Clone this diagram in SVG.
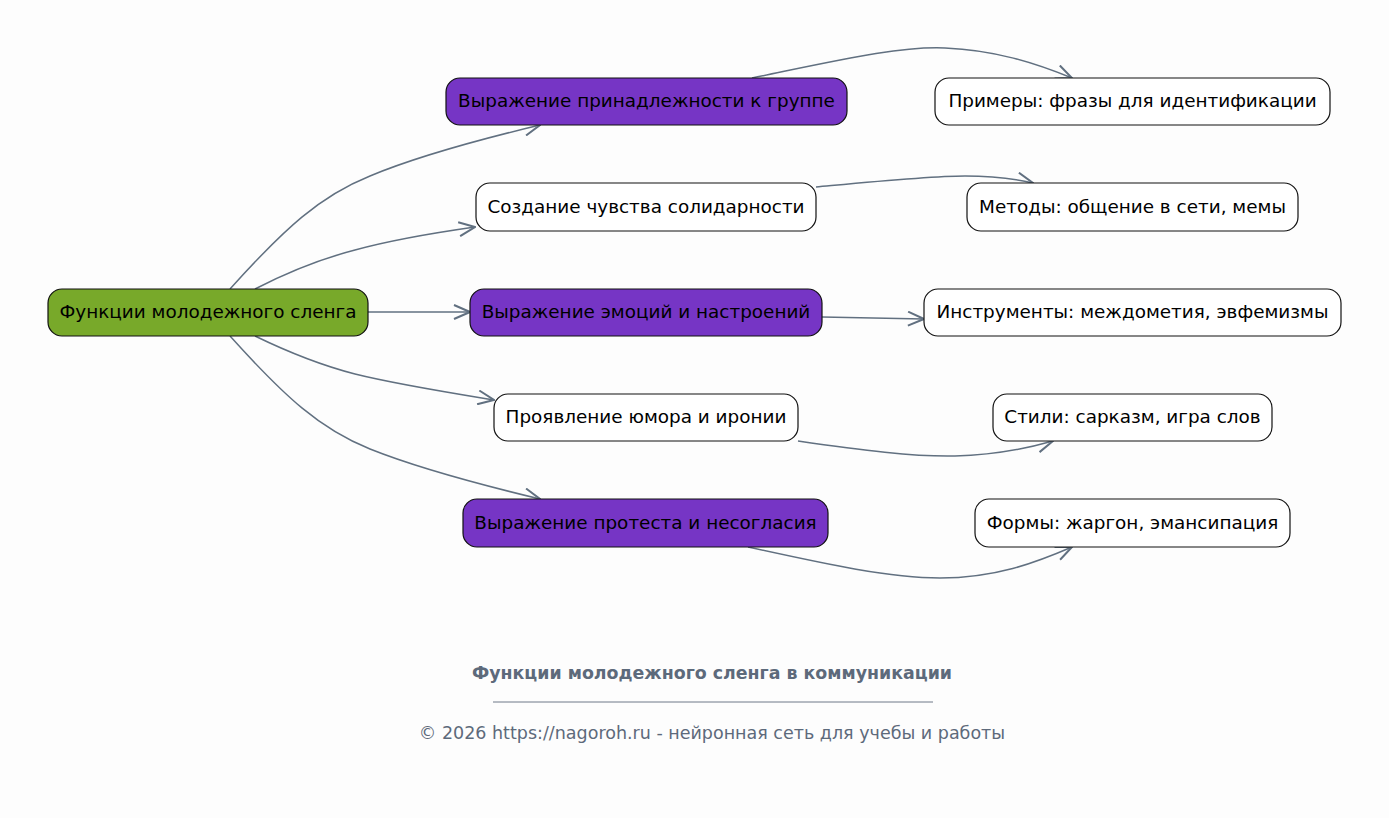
<svg xmlns="http://www.w3.org/2000/svg" width="1389" height="818" viewBox="0 0 1389 818">
<defs>
<style>
.n rect{stroke:#111;stroke-width:1.2}
.g rect{fill:#78a92a}
.p rect{fill:#7635c5}
.w rect{fill:#ffffff}
.n text{font-family:"DejaVu Sans",sans-serif;font-size:18.4px;fill:#000;text-anchor:middle;dominant-baseline:central}
.e path{fill:none;stroke:#617080;stroke-width:1.5;marker-end:url(#ah)}
.ft{font-family:"DejaVu Sans",sans-serif;fill:#5d6a7b;text-anchor:middle}
</style>
<marker id="ah" viewBox="0 0 18 16" refX="17" refY="8" markerWidth="18" markerHeight="16" markerUnits="userSpaceOnUse" orient="auto">
<path d="M1,1 L17,8 L1,15" fill="none" stroke="#617080" stroke-width="2"/>
</marker>
</defs>
<rect width="1389" height="818" fill="#fdfdfd"/>
<g class="e" id="connectors">
<path d="M230,289 C285,228 320,196 370,176 C420,155 490,137 540,125"/>
<path d="M255,289 C290,271 320,259 355,250 C395,239 440,232 475,227"/>
<path d="M368,312 L470,312"/>
<path d="M255,336 C290,353 320,365 355,374 C395,384 445,392 494,400"/>
<path d="M230,336 C285,397 320,429 370,449 C420,469 490,487 540,499"/>
<path d="M752,78 C840,60 900,46 945,48 C995,50 1035,63 1072,78"/>
<path d="M816,187 C880,181 930,176 965,176 C995,176 1015,179 1033,183"/>
<path d="M822,317 L924,319"/>
<path d="M798,441 C860,450 915,457 955,456 C995,455 1025,449 1053,441"/>
<path d="M748,547 C830,565 890,578 940,578 C995,578 1035,563 1072,547"/>
</g>
<g class="n g" id="root"><rect x="48" y="289" width="320" height="47" rx="14"/><text x="208" y="311.5">Функции молодежного сленга</text></g>
<g class="n p" id="n1"><rect x="446" y="78" width="401" height="47" rx="14"/><text x="646.5" y="100.5">Выражение принадлежности к группе</text></g>
<g class="n w" id="n2"><rect x="476" y="183" width="340" height="48" rx="14"/><text x="646" y="206">Создание чувства солидарности</text></g>
<g class="n p" id="n3"><rect x="470" y="289" width="352" height="47" rx="14"/><text x="646" y="311.5">Выражение эмоций и настроений</text></g>
<g class="n w" id="n4"><rect x="494" y="394" width="304" height="47" rx="14"/><text x="646" y="416.5">Проявление юмора и иронии</text></g>
<g class="n p" id="n5"><rect x="463" y="499" width="365" height="48" rx="14"/><text x="645.5" y="522">Выражение протеста и несогласия</text></g>
<g class="n w" id="r1"><rect x="935" y="78" width="395" height="47" rx="14"/><text x="1132.5" y="100.5">Примеры: фразы для идентификации</text></g>
<g class="n w" id="r2"><rect x="967" y="183" width="331" height="48" rx="14"/><text x="1132.5" y="206">Методы: общение в сети, мемы</text></g>
<g class="n w" id="r3"><rect x="924" y="289" width="417" height="47" rx="14"/><text x="1132.5" y="311.5">Инструменты: междометия, эвфемизмы</text></g>
<g class="n w" id="r4"><rect x="993" y="394" width="279" height="47" rx="14"/><text x="1132.5" y="416.5">Стили: сарказм, игра слов</text></g>
<g class="n w" id="r5"><rect x="975" y="499" width="315" height="48" rx="14"/><text x="1132.5" y="522">Формы: жаргон, эмансипация</text></g>
<g id="footer">
<text class="ft" x="712" y="679" font-size="17.4" font-weight="bold">Функции молодежного сленга в коммуникации</text>
<line x1="493" y1="702" x2="933" y2="702" stroke="#5d6a7b" stroke-width="0.9"/>
<text class="ft" x="712" y="739" font-size="17.5">© 2026 https://nagoroh.ru - нейронная сеть для учебы и работы</text>
</g>
</svg>
